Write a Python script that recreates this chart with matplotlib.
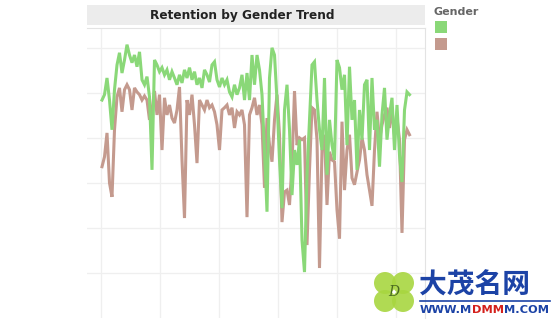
import matplotlib
matplotlib.use("Agg")
import matplotlib.pyplot as plt
import matplotlib.patches as mpatches
import numpy as np

# ----- data ----------------------------------------------------------
# retention (%) per period, one value per period for each gender
GENDERS = ["Female", "Male"]
RETENTION_F = [
    48.4, 49.6, 53.3, 48.4, 41.8, 50.7, 56.2, 58.9, 54.4, 57.3,
    60.7, 58.4, 56.7, 58.4, 55.8, 59.1, 52.9, 51.8, 53.6, 49.1,
    32.9, 57.3, 56.2, 54.7, 55.6, 54.0, 55.1, 52.9, 54.7, 53.3,
    51.8, 54.0, 52.2, 55.1, 53.3, 55.6, 52.9, 54.7, 51.8, 53.3,
    51.1, 55.1, 54.0, 52.4, 56.2, 56.9, 52.9, 51.3, 53.3, 51.8,
    52.9, 50.2, 49.1, 51.8, 49.6, 51.1, 54.0, 48.4, 54.4, 48.4,
    58.4, 51.8, 58.4, 55.1, 49.6, 37.3, 23.6, 53.3, 60.0, 58.4,
    48.4, 35.1, 24.4, 46.2, 51.8, 41.8, 27.3, 37.3, 34.0, 39.6,
    17.3, 10.2, 31.8, 44.0, 56.2, 56.9, 48.4, 41.8, 37.3, 53.3,
    31.8, 44.0, 38.4, 35.1, 57.3, 55.6, 50.7, 54.0, 38.4, 55.8,
    44.0, 48.4, 32.9, 46.2, 39.6, 51.8, 52.9, 37.3, 53.3, 41.8,
    44.0, 33.6, 45.1, 51.1, 39.6, 45.1, 48.9, 37.3, 47.3, 36.2,
    30.2, 46.2, 50.2, 49.6,
]
RETENTION_M = [
    33.6, 35.8, 41.1, 30.0, 26.9, 41.8, 49.1, 51.1, 45.8, 50.7,
    51.8, 50.7, 46.2, 51.1, 50.2, 49.6, 48.4, 49.3, 48.4, 44.0,
    46.2, 50.4, 45.1, 49.6, 37.3, 48.9, 45.1, 47.3, 44.4, 43.3,
    46.2, 51.3, 35.1, 22.2, 48.4, 45.1, 49.6, 42.9, 34.4, 48.4,
    47.3, 46.2, 48.4, 46.7, 47.3, 45.8, 42.9, 37.3, 46.2, 46.7,
    47.3, 45.1, 46.7, 42.2, 45.8, 45.1, 46.2, 42.9, 22.4, 45.1,
    46.7, 48.9, 45.1, 47.3, 42.9, 28.9, 44.4, 38.4, 34.7, 44.0,
    49.6, 40.7, 21.3, 28.0, 28.4, 25.1, 34.0, 50.4, 38.4, 40.0,
    39.6, 40.0, 16.2, 32.9, 46.7, 46.2, 39.6, 11.1, 37.3, 40.7,
    25.1, 36.9, 35.1, 34.7, 24.0, 17.6, 43.6, 28.4, 37.3, 40.7,
    31.1, 29.6, 32.4, 35.1, 40.0, 37.3, 31.8, 28.4, 24.9, 37.3,
    45.8, 39.6, 42.9, 45.1, 46.7, 42.2, 46.2, 40.7, 44.4, 39.6,
    18.9, 39.6, 41.8, 40.7,
]

GREEN = "#8ad878"
BROWN = "#c49a8e"
GRID = "#efefef"
FRAME = "#e3e3e3"

fig = plt.figure(figsize=(5.6, 3.29), dpi=100)
W, H = 560, 329


def fx(px):
    return px / W


def fy(py):
    return 1 - py / H


# ----- main panel ----------------------------------------------------
ax = fig.add_axes([fx(87), fy(318), fx(425) - fx(87), fy(28) - fy(318)])
period = np.arange(len(RETENTION_F))
ax.plot(period, RETENTION_M, color=BROWN, lw=2.2, solid_joinstyle="miter", zorder=3)
ax.plot(period, RETENTION_F, color=GREEN, lw=2.2, solid_joinstyle="miter", zorder=4)

ax.set_xlim(-6, 129.2)
ax.set_ylim(0, 64.4)
ax.set_xticks(np.arange(-0.4, 125, 23.6))
ax.set_yticks(np.arange(10, 61, 10))
ax.grid(True, color=GRID, lw=0.9)
ax.set_axisbelow(True)
ax.tick_params(length=0, labelbottom=False, labelleft=False)
for name, sp in ax.spines.items():
    sp.set_color(FRAME)
    sp.set_linewidth(0.8)
ax.spines["bottom"].set_visible(False)
ax.spines["left"].set_visible(False)

# ----- title bar -----------------------------------------------------
fig.patches.append(mpatches.Rectangle((fx(87), fy(25)), fx(425) - fx(87), fy(5) - fy(25),
                                      transform=fig.transFigure, facecolor="#ececec",
                                      edgecolor="none", zorder=0))
fig.text(fx(242), fy(15), "Retention by Gender Trend", ha="center", va="center",
         fontsize=8.7, fontweight="bold", color="#222222")

# ----- legend --------------------------------------------------------
fig.text(fx(433), fy(12), "Gender", ha="left", va="center",
         fontsize=8, fontweight="bold", color="#666666")
for k, col in enumerate([GREEN, BROWN]):
    top = 21 + k * 17
    fig.patches.append(mpatches.Rectangle((fx(435), fy(top + 12)), fx(12), fy(0) - fy(12),
                                          transform=fig.transFigure, facecolor=col,
                                          edgecolor="none"))

# ----- site mark -----------------------------------------------------
cx, cy = 394, 292
for dx, dy in [(-9, -9), (9, -9), (-9, 9), (9, 9)]:
    fig.patches.append(mpatches.Ellipse((fx(cx + dx), fy(cy + dy)), fx(22), fy(0) - fy(22),
                                        transform=fig.transFigure,
                                        facecolor="#a8d640", edgecolor="none", alpha=0.9))
fig.text(fx(cx), fy(cy), "D", ha="center", va="center", fontsize=10,
         style="italic", color="#4a6a20", family="DejaVu Serif")
fig.text(fx(419), fy(286), "大茂名网", ha="left", va="center", fontsize=20,
         fontweight="bold", color="#1c43a6", family=["Noto Sans CJK SC", "DejaVu Sans"])
fig.add_artist(plt.Line2D([fx(420), fx(550)], [fy(301), fy(301)], color="#1c43a6", lw=1.2))
x0 = 420
for chunk, col in [("WWW.M", "#1c43a6"), ("DMM", "#d4201c"), ("M.COM", "#1c43a6")]:
    t = fig.text(fx(x0), fy(310), chunk, ha="left", va="center", fontsize=8.2,
                 fontweight="bold", color=col)
    fig.canvas.draw()
    bb = t.get_window_extent()
    x0 += bb.width

fig.savefig("out.png", dpi=100)
